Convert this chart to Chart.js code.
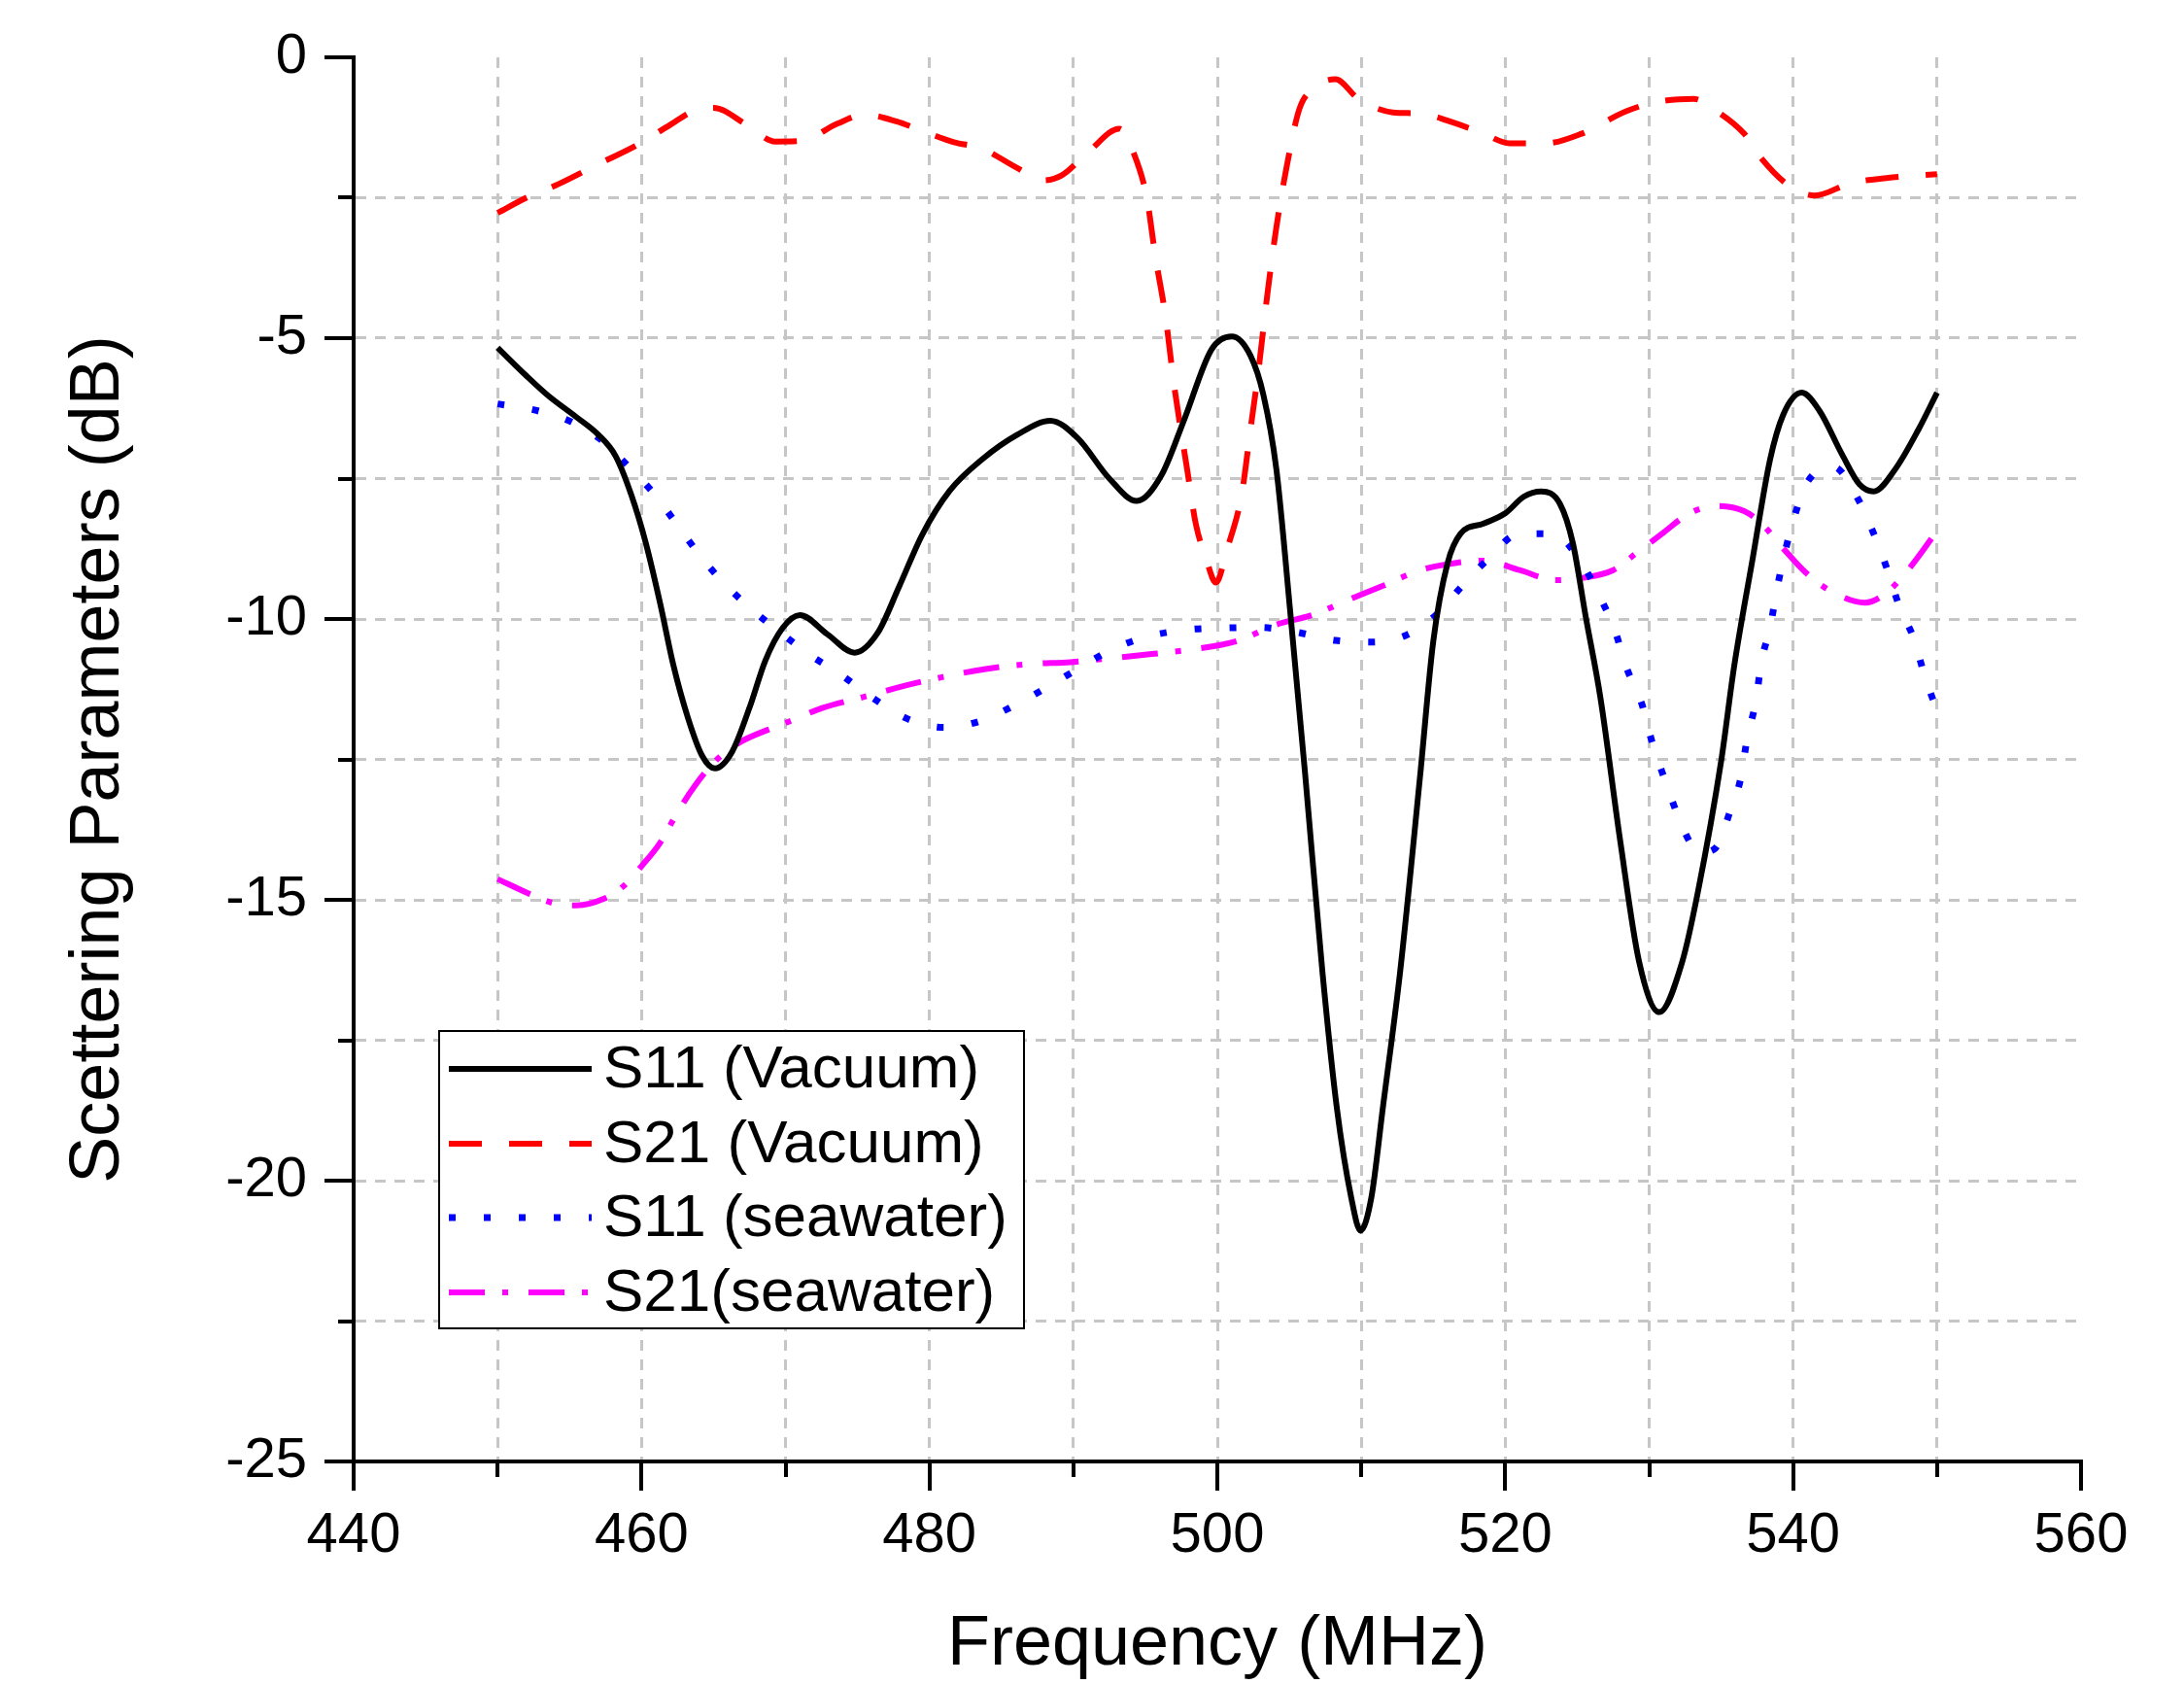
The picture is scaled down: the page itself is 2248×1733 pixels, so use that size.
<!DOCTYPE html>
<html lang="en">
<head>
<meta charset="UTF-8">
<title>Scattering parameters</title>
<script src="https://cdn.jsdelivr.net/npm/chart.js"></script>
<style>
  html, body { margin: 0; padding: 0; background: #fff; }
  canvas { display: block; }
</style>
</head>
<body>
<canvas id="grafico" width="2248" height="1733"></canvas>
<script>
// series names (legend order)
const seriesNames = ['S11 (Vacuum)', 'S21 (Vacuum)', 'S11 (seawater)', 'S21(seawater)'];

// S11 (Vacuum)
const s11VacFreq = [450, 452, 453.5, 455.5, 457, 458.2, 459.3, 460.3, 461.3, 462.2, 463.2, 464.2, 465.1, 466.3, 467.5,
  468.6, 469.8, 471, 472.9, 474.8, 476.4, 477.9, 479.5, 481.4, 483.7, 486.1, 488.4, 490.3, 492.5, 494.4, 496.1, 497.7,
  499.6, 501, 502.3, 503.2, 504.1, 505.1, 506.1, 507.3, 508.3, 509.3, 509.95, 510.7, 511.5, 512.7, 514.1, 515, 516,
  516.9, 518.5, 520, 521.3, 522.5, 523.8, 524.7, 525.6, 526.6, 528, 529.3, 530.7, 532.3, 533.4, 535, 535.9, 537.2,
  538.4, 539.3, 540.6, 541.8, 543.4, 544.6, 545.6, 547.1, 548.7, 550];
const s11VacDb = [-5.17, -5.67, -6.02, -6.41, -6.72, -7.1, -7.8, -8.65, -9.73, -10.81, -11.74, -12.43, -12.66, -12.36, -11.58,
  -10.74, -10.16, -9.93, -10.27, -10.6, -10.25, -9.42, -8.5, -7.72, -7.15, -6.72, -6.47, -6.78, -7.5, -7.9, -7.45, -6.45,
  -5.2, -4.97, -5.31, -6.01, -7.33, -9.97, -12.76, -16.28, -18.7, -20.3, -20.89, -20.3, -18.7, -16.28, -12.76, -10.4, -9.0,
  -8.48, -8.3, -8.12, -7.82, -7.73, -7.95, -8.65, -9.97, -11.38, -13.97, -16.1, -17.0, -16.1, -14.84, -12.53, -10.85, -8.91,
  -7.16, -6.37, -5.97, -6.28, -7.07, -7.6, -7.73, -7.33, -6.63, -5.97];

// S21 (Vacuum)
const s21VacFreq = [450, 452, 454.2, 457, 459.7, 462, 463.5, 465, 467.3, 469.3, 471.1, 473.6, 475.5, 477.7, 479.5, 481.7,
  483.6, 486.1, 487.9, 489.2, 491.1, 493.2, 494.2, 495.1, 495.7, 496.4, 497, 497.9, 498.5, 499.2, 499.9, 500.7, 501.7,
  502.3, 502.9, 503.5, 504.1, 504.8, 505.7, 506.6, 508.2, 509.8, 512.2, 514.1, 516.6, 518.5, 520.3, 522.8, 525.3, 528.4,
  530.6, 533.1, 534.7, 536.6, 537.8, 539.7, 541.5, 544, 546.5, 550];
const s21VacDb = [-2.77, -2.5, -2.26, -1.9, -1.56, -1.2, -0.97, -0.9, -1.2, -1.5, -1.49, -1.18, -1.02, -1.14, -1.31, -1.51,
  -1.62, -1.97, -2.19, -2.1, -1.67, -1.27, -1.71, -2.5, -3.55, -4.61, -5.84, -7.33, -8.3, -8.91, -9.35, -8.74, -7.77,
  -6.63, -5.49, -4.17, -3.03, -1.97, -0.92, -0.57, -0.39, -0.74, -0.98, -1.0, -1.18, -1.36, -1.53, -1.53, -1.36, -0.96,
  -0.79, -0.74, -0.96, -1.36, -1.8, -2.28, -2.46, -2.24, -2.15, -2.08];

// S11 (seawater)
const s11SeaFreq = [450, 452.9, 455.2, 457.3, 459, 460.9, 462.5, 464, 465.6, 467.7, 469.6, 471.7, 473.9, 476.2, 478.5, 481,
  483.5, 485.9, 488, 490.3, 492.7, 495.2, 497.9, 500.4, 502.9, 505.4, 508.2, 510.7, 513.2, 515.4, 516.9, 518.7, 521,
  523.3, 525.3, 526.6, 527.6, 528.4, 529.5, 530.2, 531, 531.9, 532.9, 533.7, 534.6, 535.6, 536.4, 536.8, 537.4, 537.8,
  538.4, 538.9, 539.5, 540.1, 540.9, 542.8, 544.5, 545.6, 546.5, 547.4, 548.4, 549.1, 550];
const s11SeaDb = [-6.17, -6.3, -6.5, -6.83, -7.26, -7.78, -8.33, -8.85, -9.33, -9.84, -10.23, -10.64, -11.0, -11.43, -11.78, -11.93,
  -11.82, -11.54, -11.24, -10.89, -10.54, -10.31, -10.19, -10.16, -10.15, -10.23, -10.38, -10.41, -10.28, -9.88, -9.44, -8.96, -8.48,
  -8.48, -9.0, -9.62, -10.19, -10.85, -11.52, -12.19, -12.8, -13.44, -14.0, -14.15, -14.08, -13.44, -12.79, -12.13, -11.48, -10.76,
  -10.15, -9.44, -8.74, -8.17, -7.6, -7.29, -7.86, -8.48, -9.09, -9.79, -10.36, -10.98, -11.64];

// S21 (seawater)
const s21SeaFreq = [450, 452, 453.9, 455.5, 457.4, 458.6, 460.1, 461.3, 462.5, 463.7, 465.2, 466.8, 468.8, 470.3, 472.6, 475.4,
  478.1, 480.8, 483.9, 487, 489.8, 492.5, 495.6, 498.3, 501.4, 504.1, 506.6, 509.1, 511.6, 514.1, 516.6, 518.5, 521, 523.5,
  525.3, 527.5, 529.1, 530.9, 532.8, 534.7, 536.6, 537.8, 539.3, 540.9, 542.8, 545, 546.5, 548.1, 550];
const s21SeaDb = [-14.63, -14.87, -15.06, -15.1, -14.98, -14.79, -14.37, -13.98, -13.44, -12.97, -12.51, -12.2, -11.97, -11.82, -11.58, -11.39,
  -11.2, -11.04, -10.89, -10.8, -10.77, -10.7, -10.62, -10.54, -10.39, -10.1, -9.93, -9.66, -9.4, -9.13, -9.0, -8.96, -9.13, -9.31,
  -9.27, -9.13, -8.83, -8.48, -8.12, -7.99, -8.08, -8.3, -8.74, -9.18, -9.53, -9.71, -9.53, -9.09, -8.43];

const fonte = '"Liberation Sans", Arial, sans-serif';

const pares = (xs, ys) => xs.map((x, i) => ({ x: x, y: ys[i] }));

// tick marks (long on labelled ticks) and the boxed legend
const marcasELegenda = {
  id: 'marcasELegenda',
  afterDraw(chart) {
    const c = chart.ctx;
    const sx = chart.scales.x, sy = chart.scales.y;
    const area = chart.chartArea;
    c.save();
    c.strokeStyle = '#000';
    c.lineWidth = 4;
    sx.ticks.forEach(t => {
      const px = Math.round(sx.getPixelForValue(t.value));
      const len = t.value % 20 === 0 ? 30 : 16;
      c.beginPath(); c.moveTo(px, area.bottom); c.lineTo(px, area.bottom + len); c.stroke();
    });
    sy.ticks.forEach(t => {
      const py = Math.round(sy.getPixelForValue(t.value));
      const len = t.value % 5 === 0 ? 30 : 16;
      c.beginPath(); c.moveTo(area.left, py); c.lineTo(area.left - len, py); c.stroke();
    });

    // legend
    const bx = 452, by = 1061, bw = 602, bh = 306;
    c.fillStyle = '#fff';
    c.fillRect(bx, by, bw, bh);
    c.lineWidth = 2;
    c.strokeStyle = '#000';
    c.strokeRect(bx, by, bw, bh);
    const filas = [1100, 1177, 1253, 1330];
    c.font = '62px ' + fonte;
    c.textBaseline = 'middle';
    c.textAlign = 'left';
    chart.data.datasets.forEach((ds, i) => {
      c.save();
      c.strokeStyle = ds.borderColor;
      c.lineWidth = ds.borderWidth;
      c.setLineDash(ds.borderDash || []);
      c.beginPath(); c.moveTo(462, filas[i]); c.lineTo(609, filas[i]); c.stroke();
      c.restore();
      c.fillStyle = '#000';
      c.fillText(ds.label, 621, filas[i] + 2);
    });
    c.restore();
  }
};

const ctx = document.getElementById('grafico');

new Chart(ctx, {
  type: 'line',
  data: {
    datasets: [
      { label: seriesNames[0], data: pares(s11VacFreq, s11VacDb), borderColor: '#000000', borderWidth: 6 },
      { label: seriesNames[1], data: pares(s21VacFreq, s21VacDb), borderColor: '#ff0000', borderWidth: 6, borderDash: [34, 28] },
      { label: seriesNames[2], data: pares(s11SeaFreq, s11SeaDb), borderColor: '#0000ff', borderWidth: 7, borderDash: [7, 29] },
      { label: seriesNames[3], data: pares(s21SeaFreq, s21SeaDb), borderColor: '#ff00ff', borderWidth: 6, borderDash: [37, 18, 6, 21] }
    ]
  },
  options: {
    responsive: false,
    animation: false,
    devicePixelRatio: 1,
    elements: {
      point: { radius: 0 },
      line: { cubicInterpolationMode: 'monotone', fill: false }
    },
    layout: { padding: { top: 59, right: 106, left: 0, bottom: 0 } },
    plugins: {
      legend: { display: false },
      tooltip: { enabled: false }
    },
    scales: {
      x: {
        type: 'linear',
        min: 440,
        max: 560,
        afterFit: (s) => { s.height = 229; },
        ticks: {
          stepSize: 10,
          autoSkip: false,
          maxRotation: 0,
          padding: 42,
          color: '#000',
          font: { family: fonte, size: 58 },
          callback: (v) => (v % 20 === 0 ? String(v) : '')
        },
        grid: {
          drawTicks: false,
          lineWidth: 3,
          color: (c) => (c.tick && (c.tick.value === 440 || c.tick.value === 560) ? 'rgba(0,0,0,0)' : '#c6c6c6')
        },
        border: { display: true, color: '#000', width: 4, dash: [11, 9] },
        title: {
          display: true,
          text: 'Frequency (MHz)',
          color: '#000',
          font: { family: fonte, size: 72, lineHeight: 1.1 },
          padding: { top: 0, bottom: 0 }
        }
      },
      y: {
        type: 'linear',
        min: -25,
        max: 0,
        // fixed axis width; drop the label padding Chart.js adds above/below the axis
        afterFit: (s) => { s.width = 364; s.paddingTop = 0; s.paddingBottom = 0; },
        ticks: {
          stepSize: 2.5,
          autoSkip: false,
          padding: 48,
          color: '#000',
          font: { family: fonte, size: 58 },
          callback: (v) => (v % 5 === 0 ? String(v) : '')
        },
        grid: {
          drawTicks: false,
          lineWidth: 3,
          color: (c) => (c.tick && (c.tick.value === 0 || c.tick.value === -25) ? 'rgba(0,0,0,0)' : '#c6c6c6')
        },
        border: { display: true, color: '#000', width: 4, dash: [11, 9] },
        title: {
          display: true,
          text: 'Scettering Parameters (dB)',
          color: '#000',
          font: { family: fonte, size: 72 },
          padding: { top: 59, bottom: 0 }
        }
      }
    }
  },
  plugins: [marcasELegenda]
});
</script>
</body>
</html>
